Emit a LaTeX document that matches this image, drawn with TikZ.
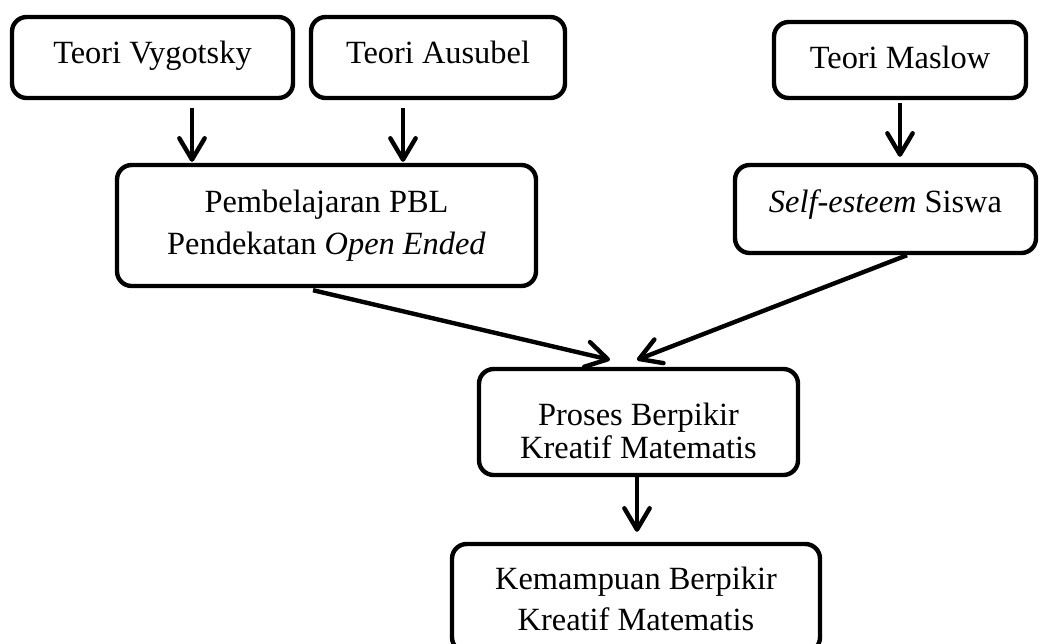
\documentclass[tikz,border=0pt]{standalone}
\usepackage{fontspec}
\setmainfont{Liberation Serif}
\usetikzlibrary{arrows.meta,calc}
\newcommand\btext[3]{\raisebox{#1}[0pt][0pt]{\fontsize{24.3}{#2}\selectfont\begin{tabular}[t]{@{}c@{}}#3\end{tabular}}}
\tikzset{
  box/.style={draw, line width=3.3pt, rounded corners=11pt, inner sep=0pt, fill=white},
  arr/.style={line width=3.3pt, -{Straight Barb[length=16pt,width=19pt,round]}},
}
\begin{document}
\begin{tikzpicture}[x=0.75pt,y=-0.75pt]
\useasboundingbox (0,0) rectangle (1045,643);
\node[box, minimum width=281*0.75pt, minimum height=81*0.75pt] (vyg) at (152.5,57.5)
  {\btext{-4.5pt}{28}{Teori Vygotsky}};
\node[box, minimum width=254*0.75pt, minimum height=81*0.75pt] (aus) at (438,57.5)
  {\btext{-4.5pt}{28}{Teori Ausubel}};
\node[box, minimum width=252*0.75pt, minimum height=76*0.75pt] (mas) at (900,60)
  {\btext{-6.3pt}{28}{Teori Maslow}};
\node[box, minimum width=419*0.75pt, minimum height=121*0.75pt] (pbl) at (326.5,225.5)
  {\btext{9.8pt}{31.5}{Pembelajaran PBL\\Pendekatan \textit{Open Ended}}};
\node[box, minimum width=301*0.75pt, minimum height=88*0.75pt] (self) at (885.5,209)
  {\btext{-2.5pt}{28}{\textit{Self-esteem} Siswa}};
\node[box, minimum width=319*0.75pt, minimum height=106*0.75pt] (pro) at (638.5,422)
  {\btext{-2.5pt}{24.75}{Proses Berpikir\\Kreatif Matematis}};
\node[box, minimum width=368*0.75pt, minimum height=108*0.75pt] (kem) at (636,598)
  {\btext{6.5pt}{30.75}{Kemampuan Berpikir\\Kreatif Matematis}};
\draw[arr] ($(vyg.south)+(39.5,8)$) -- ($(pbl.north)+(-134.5,-1)$);
\draw[arr] ($(aus.south)+(-35,8)$) -- ($(pbl.north)+(76.5,-1)$);
\draw[arr] ($(mas.south)+(0,3)$) -- ($(self.north)+(14.5,-6)$);
\draw[arr] ($(pbl.south)+(-13.5,2)$) -- ($(pro.north)+(-28.5,-7)$);
\draw[arr] ($(self.south)+(21.5,0)$) -- ($(pro.north)+(-1.5,-7)$);
\draw[arr] ($(pro.south)+(-1.5,0)$) -- ($(kem.north)+(1,-10)$);
\end{tikzpicture}
\end{document}
